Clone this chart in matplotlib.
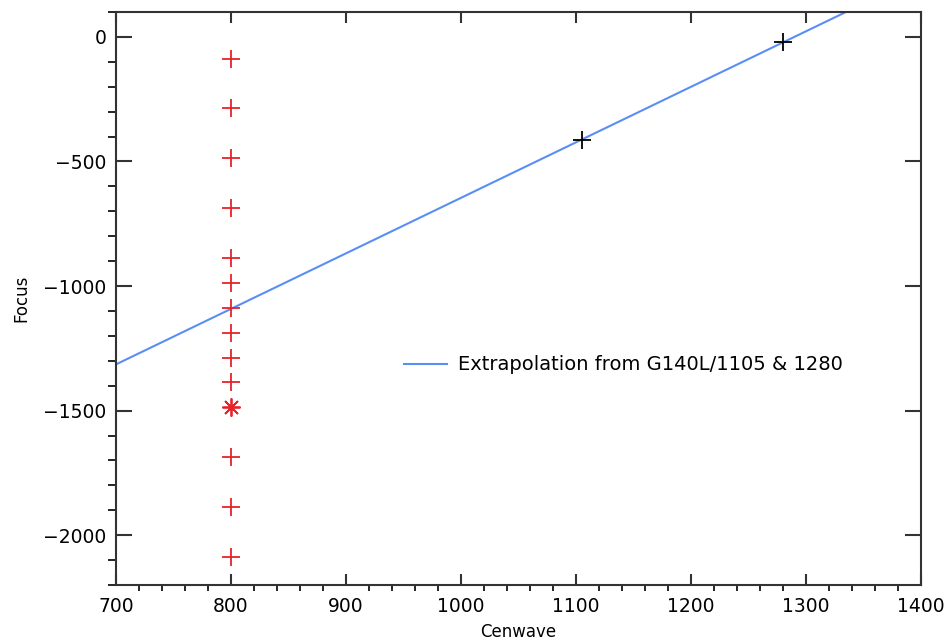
import matplotlib.pyplot as plt
import numpy as np

# focus sweep taken at cenwave 800
sweep_cenwave = 800
sweep_focus = [-87, -287, -487, -687, -887, -987, -1087, -1187, -1287, -1387,
               -1687, -1887, -2087]
best_focus = -1487

# G140L reference settings
ref_cenwave = [1105, 1280]
ref_focus = [-412, -22]

fit_label = "Extrapolation from G140L/1105 & 1280"


def main():
    plt.rcParams["font.family"] = "DejaVu Sans"
    fig = plt.figure(figsize=(9.46, 6.41), dpi=100)
    ax = fig.add_axes([0.1226, 0.0874, 0.851, 0.8939])

    # straight-line extrapolation through the two reference points
    slope, icpt = np.polyfit(ref_cenwave, ref_focus, 1)
    xx = np.array([700, 1400])
    ax.plot(xx, slope * xx + icpt, color="#5a8ef5", lw=1.5, label=fit_label)

    ax.plot(ref_cenwave, ref_focus, ls="none", marker="+", ms=13, mew=1.3,
            color="black")
    ax.plot([sweep_cenwave] * len(sweep_focus), sweep_focus, ls="none",
            marker="+", ms=13, mew=1.3, color="#e8222a")
    ax.plot([sweep_cenwave], [best_focus], ls="none", marker=(8, 2, 0),
            ms=13, mew=1.3, color="#e8222a")

    ax.set_xlim(700, 1400)
    ax.set_ylim(-2200, 100)
    ax.set_xticks(np.arange(700, 1401, 100))
    ax.set_xticks(np.arange(700, 1401, 20), minor=True)
    ax.set_yticks(np.arange(-2000, 1, 500))
    ax.set_yticks(np.arange(-2200, 101, 100), minor=True)
    ax.set_yticklabels([str(v).replace("-", "\u2212") for v in
                        np.arange(-2000, 1, 500)])

    for s in ax.spines.values():
        s.set_linewidth(1.5)
        s.set_color("#333333")
    ax.tick_params(direction="in", top=True, right=True, colors="#333333",
                   labelcolor="black", labelsize=13.5, width=1.5)
    ax.tick_params(axis="x", which="major", length=8, pad=9)
    ax.tick_params(axis="x", which="minor", length=4, width=1.2)
    ax.tick_params(axis="y", which="major", length=11.5, pad=7)
    ax.tick_params(axis="y", which="minor", length=6, width=1.2)

    ax.set_xlabel("Cenwave", fontsize=12, labelpad=5)
    ax.set_ylabel("Focus", fontsize=12, labelpad=9)

    ax.legend(loc="center left", bbox_to_anchor=(0.336, 0.384), frameon=False,
              fontsize=14, handlelength=2.2, handletextpad=0.6)

    fig.savefig("out.png", dpi=100)
    plt.close(fig)


if __name__ == "__main__":
    main()
